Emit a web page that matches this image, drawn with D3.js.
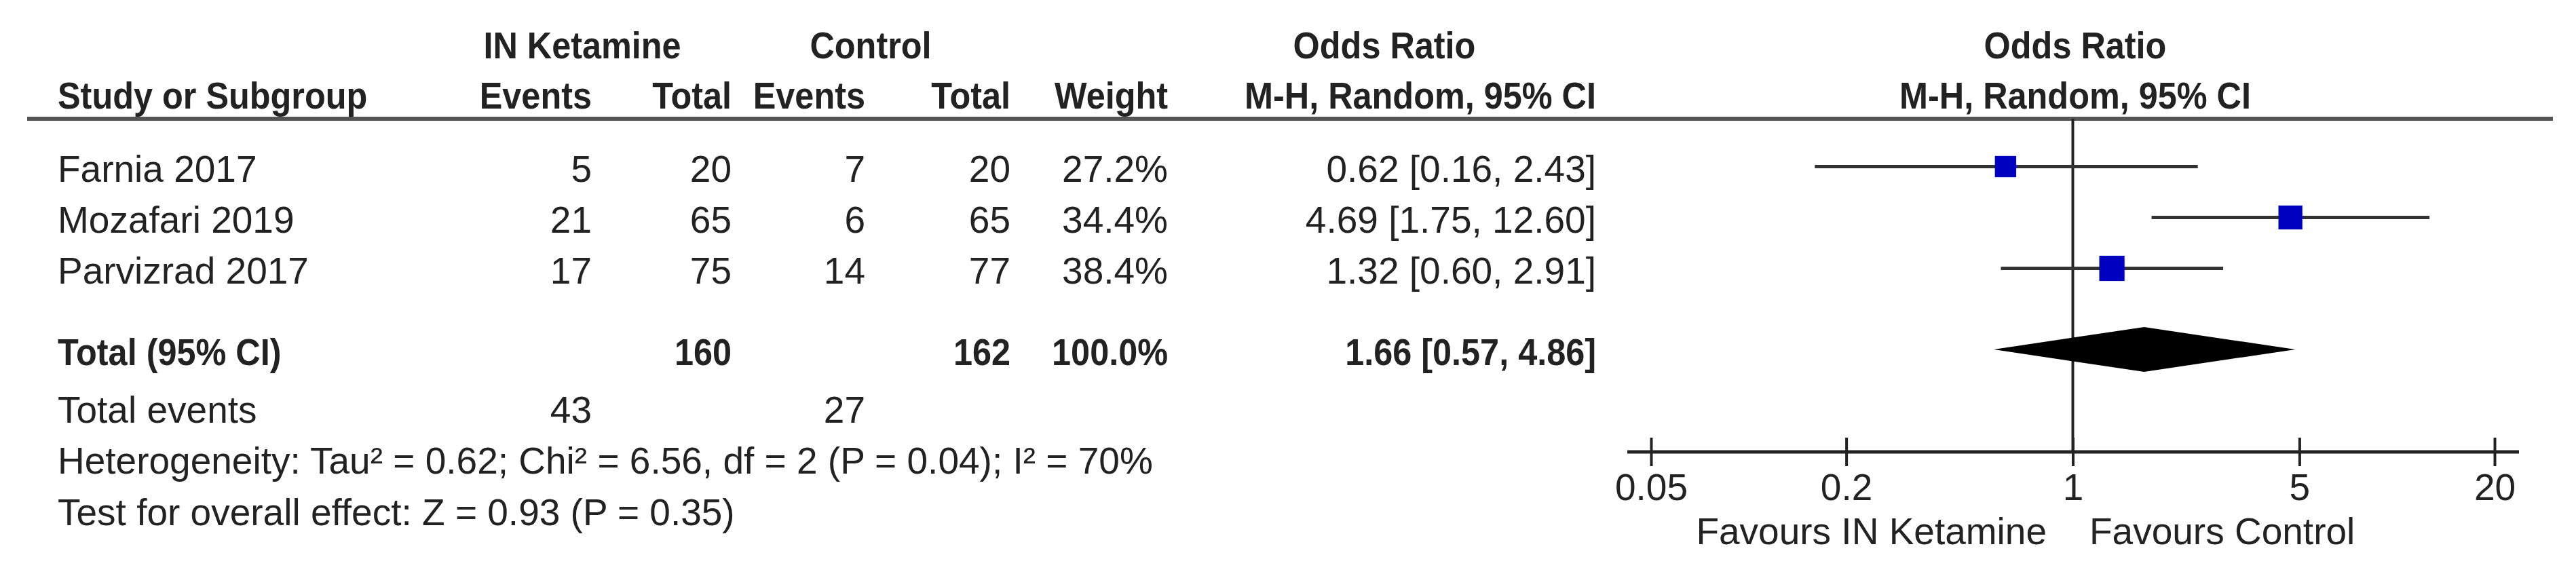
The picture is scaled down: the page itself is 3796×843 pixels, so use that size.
<!DOCTYPE html>
<html>
<head>
<meta charset="utf-8">
<script src="https://cdn.jsdelivr.net/npm/d3@7"></script>
<style>
body { margin: 0; background: white; }
text { font-family: "Liberation Sans", Arial, sans-serif; fill: #222; }
</style>
</head>
<body>
<svg id="chart" width="3796" height="843"></svg>
<script>
var studies = ["Farnia 2017", "Mozafari 2019", "Parvizrad 2017"];
var ketEvents = [5, 21, 17];
var ketTotal = [20, 65, 75];
var ctlEvents = [7, 6, 14];
var ctlTotal = [20, 65, 77];
var weights = [27.2, 34.4, 38.4];
var orValue = [0.62, 4.69, 1.32];
var orLow = [0.16, 1.75, 0.60];
var orHigh = [2.43, 12.60, 2.91];
var pooled = {or: 1.66, low: 0.57, high: 4.86};
var totals = {ket: 160, ctl: 162, weight: "100.0%", ketEvents: 43, ctlEvents: 27};
var tickValues = [0.05, 0.2, 1, 5, 20];

var svg = d3.select("#chart");
var fs = 55;

// column right edges (text-anchor end) and row baselines
var col = {name: 85, ke: 872, kt: 1078, ce: 1275, ct: 1489, w: 1721, ci: 2352};
var rowY = d3.scaleBand().domain(studies).range([210, 435]).paddingInner(0);
var base = function(s) { return rowY(s) + rowY.bandwidth() / 2 + 20; };

function txt(x, y, s, anchor, bold) {
	// bold text in the reference is narrower than Arial Bold
	svg.append("text").attr("transform", "translate(" + x + "," + y + ")" + (bold ? " scale(0.9,1)" : ""))
		.text(s)
		.attr("text-anchor", anchor || "start")
		.style("font-size", (bold ? 56 : fs) + "px")
		.style("font-weight", bold ? "bold" : "normal");
}

// headers
txt(858, 86, "IN Ketamine", "middle", true);
txt(1283, 86, "Control", "middle", true);
txt(2040, 86, "Odds Ratio", "middle", true);
txt(3058, 86, "Odds Ratio", "middle", true);
txt(col.name, 160, "Study or Subgroup", "start", true);
txt(col.ke, 160, "Events", "end", true);
txt(col.kt, 160, "Total", "end", true);
txt(col.ce, 160, "Events", "end", true);
txt(col.ct, 160, "Total", "end", true);
txt(col.w, 160, "Weight", "end", true);
txt(col.ci, 160, "M-H, Random, 95% CI", "end", true);
txt(3058, 160, "M-H, Random, 95% CI", "middle", true);

svg.append("line").attr("x1", 40).attr("x2", 3762).attr("y1", 175).attr("y2", 175)
	.style("stroke", "#555").style("stroke-width", 6);

// study rows
studies.forEach(function(s, i) {
	var y = base(s);
	txt(col.name, y, s);
	txt(col.ke, y, ketEvents[i], "end");
	txt(col.kt, y, ketTotal[i], "end");
	txt(col.ce, y, ctlEvents[i], "end");
	txt(col.ct, y, ctlTotal[i], "end");
	txt(col.w, y, weights[i].toFixed(1) + "%", "end");
	txt(col.ci, y, orValue[i].toFixed(2) + " [" + orLow[i].toFixed(2) + ", " + orHigh[i].toFixed(2) + "]", "end");
});

// totals
txt(col.name, 538, "Total (95% CI)", "start", true);
txt(col.kt, 538, totals.ket, "end", true);
txt(col.ct, 538, totals.ctl, "end", true);
txt(col.w, 538, totals.weight, "end", true);
txt(col.ci, 538, pooled.or.toFixed(2) + " [" + pooled.low.toFixed(2) + ", " + pooled.high.toFixed(2) + "]", "end", true);
txt(col.name, 623, "Total events");
txt(col.ke, 623, totals.ketEvents, "end");
txt(col.ce, 623, totals.ctlEvents, "end");
txt(col.name, 698, "Heterogeneity: Tau² = 0.62; Chi² = 6.56, df = 2 (P = 0.04); I² = 70%");
txt(col.name, 774, "Test for overall effect: Z = 0.93 (P = 0.35)");

// forest plot
var x = d3.scaleLog().domain([0.05, 20]).range([2433, 3676]);
var axisY = 666;
var sz = d3.scaleSqrt().domain([0, 40]).range([0, 38]);

svg.append("line").attr("x1", x(1)).attr("x2", x(1)).attr("y1", 175).attr("y2", axisY)
	.style("stroke", "#222").style("stroke-width", 4);

studies.forEach(function(s, i) {
	var cy = rowY(s) + rowY.bandwidth() / 2 - 2;
	svg.append("line").attr("x1", x(orLow[i])).attr("x2", x(orHigh[i]))
		.attr("y1", cy).attr("y2", cy).style("stroke", "#333").style("stroke-width", 5);
	var w = sz(weights[i]);
	svg.append("rect").attr("x", x(orValue[i]) - w / 2).attr("y", cy - w / 2)
		.attr("width", w).attr("height", w).style("fill", "#0000c0");
});

var dy = 515, dh = 33;
svg.append("polygon")
	.attr("points", [[x(pooled.low), dy], [x(pooled.or), dy - dh], [x(pooled.high), dy], [x(pooled.or), dy + dh]].join(" "))
	.style("fill", "black");

var axis = d3.axisBottom(x).tickValues(tickValues).tickFormat(d3.format("")).tickSize(22).tickSizeOuter(0);
var ag = svg.append("g").attr("transform", "translate(0," + axisY + ")").call(axis);
ag.select(".domain").attr("d", "M2398,0H3712").style("stroke", "#222").style("stroke-width", 5);
ag.selectAll(".tick line").attr("y1", -21).attr("y2", 21).style("stroke", "#222").style("stroke-width", 4);
ag.selectAll(".tick text").attr("y", 71).attr("dy", null).style("font-size", fs + "px")
	.style("font-family", "Liberation Sans, Arial, sans-serif").style("fill", "#222");

txt(3016, 802, "Favours IN Ketamine", "end");
txt(3079, 802, "Favours Control", "start");
</script>
</body>
</html>
